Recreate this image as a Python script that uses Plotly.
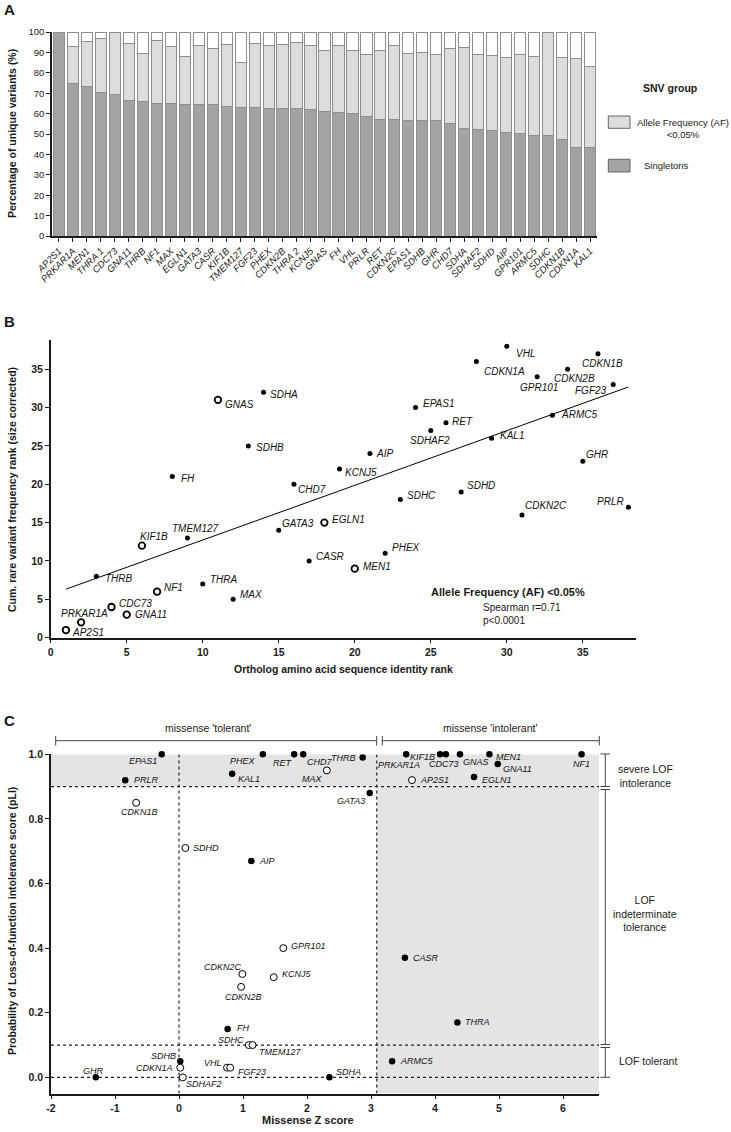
import numpy as np
import plotly.graph_objects as go

W, H = 731, 1132
def px(x): return x / W
def py(y): return 1 - y / H

FONT = "Arial, Liberation Sans, Helvetica, sans-serif"

# ---------------- Panel A data ----------------
genes_a = ["AP2S1", "PRKAR1A", "MEN1", "THRA 1", "CDC73", "GNA11", "THRB", "NF1", "MAX",
           "EGLN1", "GATA3", "CASR", "KIF1B", "TMEM127", "FGF23", "PHEX", "CDKN2B", "THRA 2",
           "KCNJ5", "GNAS", "FH", "VHL", "PRLR", "RET", "CDKN2C", "EPAS1", "SDHB", "GHR",
           "CHD7", "SDHA", "SDHAF2", "SDHD", "AIP", "GPR101", "ARMC5", "SDHC", "CDKN1B",
           "CDKN1A", "KAL1"]
singletons = [100, 75.0, 73.4, 70.5, 69.2, 66.3, 66.1, 64.8, 64.8, 64.4, 64.4, 64.4, 63.7,
              63.2, 63.1, 62.7, 62.6, 62.4, 61.9, 60.8, 60.3, 60.0, 58.7, 57.1, 57.0, 56.5,
              56.5, 56.5, 55.0, 52.6, 52.1, 51.6, 50.6, 50.2, 49.5, 49.5, 47.3, 43.4, 43.4]
af_low = [0, 17.7, 22.1, 26.1, 30.8, 28.1, 23.4, 31.0, 27.9, 23.5, 28.8, 27.4, 30.0, 21.8,
          31.1, 30.5, 31.1, 32.3, 31.3, 30.0, 32.9, 31.1, 30.2, 33.7, 36.2, 33.0, 33.5, 32.4,
          36.8, 39.7, 36.8, 36.9, 36.8, 38.7, 38.4, 50.5, 40.1, 43.7, 39.7]
remainder = [max(0.0, 100 - s - a) for s, a in zip(singletons, af_low)]

# ---------------- Panel B data ----------------
genes_b = ["AP2S1", "PRKAR1A", "THRB", "CDC73", "GNA11", "KIF1B", "NF1", "FH", "TMEM127",
           "THRA", "GNAS", "MAX", "SDHB", "SDHA", "GATA3", "CHD7", "CASR", "EGLN1", "KCNJ5",
           "MEN1", "AIP", "PHEX", "SDHC", "EPAS1", "SDHAF2", "RET", "SDHD", "CDKN1A", "KAL1",
           "VHL", "CDKN2C", "GPR101", "ARMC5", "CDKN2B", "GHR", "CDKN1B", "FGF23", "PRLR"]
ortholog_rank = list(range(1, 39))
cum_rank = [1, 2, 8, 4, 3, 12, 6, 21, 13, 7, 31, 5, 25, 32, 14, 20, 10, 15, 22, 9, 24, 11,
            18, 30, 27, 28, 19, 36, 26, 38, 16, 34, 29, 35, 23, 37, 33, 17]
open_b = {"AP2S1", "PRKAR1A", "CDC73", "GNA11", "NF1", "KIF1B", "GNAS", "EGLN1", "MEN1"}

# label placement (pixel offsets right / down from the point, text anchor)
lab_b = {"VHL": (7, 7, "left"), "CDKN1A": (5.5, 10, "left"), "GPR101": (2, 10.5, "center"),
         "CDKN2B": (7, 9.5, "center"), "CDKN1B": (4.5, 10, "center"), "FGF23": (-4, 5.5, "right"),
         "EPAS1": (5, -4.5, "left"), "RET": (4, -1.5, "left"), "ARMC5": (7, -1, "left"),
         "SDHAF2": (-0.5, 10, "center"), "KAL1": (6, -2.5, "left"), "AIP": (4, 0, "left"),
         "GHR": (1, -7, "left"), "SDHD": (4, -6.5, "left"), "SDHC": (4.5, -4, "left"),
         "CDKN2C": (1.5, -9, "left"), "PRLR": (-2.5, -5.5, "right"), "PHEX": (5, -5.5, "left"),
         "MEN1": (6, -2, "left"), "SDHB": (5.5, 2, "left"), "KCNJ5": (3.5, 3.5, "left"),
         "FH": (6.5, 1.5, "left"), "CHD7": (2.5, 5.5, "left"), "GATA3": (1, -6.5, "left"),
         "EGLN1": (6, -3.5, "left"), "TMEM127": (7.5, -9, "center"), "KIF1B": (-3.5, -9, "left"),
         "CASR": (4.5, -4.5, "left"), "THRB": (7, 2.5, "left"), "THRA": (5, -4, "left"),
         "NF1": (5, -4, "left"), "MAX": (4.5, -4.5, "left"), "CDC73": (5, -4, "left"),
         "GNA11": (6, 0, "left"), "PRKAR1A": (3.5, -8.5, "center"), "AP2S1": (4, 2.5, "left"),
         "GNAS": (5.5, 5, "left"), "SDHA": (4.5, 2.5, "left")}

# ---------------- Panel C data ----------------
genes_c = ["EPAS1", "PRLR", "CDKN1B", "PHEX", "KAL1", "RET", "CHD7", "MAX", "THRB", "GATA3",
           "SDHD", "AIP", "PRKAR1A", "KIF1B", "CDC73", "GNAS", "MEN1", "GNA11", "EGLN1", "NF1",
           "AP2S1", "GPR101", "CDKN2C", "KCNJ5", "CDKN2B", "FH", "SDHC", "TMEM127", "SDHB",
           "CDKN1A", "VHL", "FGF23", "GHR", "SDHAF2", "SDHA", "CASR", "THRA", "ARMC5"]
missense_z = [-0.27, -0.84, -0.67, 1.31, 0.83, 1.80, 1.94, 2.31, 2.87, 2.98,
              0.10, 1.13, 3.55, 4.08, 4.17, 4.39, 4.85, 4.98, 4.61, 6.29,
              3.64, 1.63, 0.99, 1.48, 0.97, 0.76, 1.09, 1.15, 0.02,
              0.02, 0.75, 0.80, -1.30, 0.06, 2.35, 3.53, 4.35, 3.33]
pli = [1.00, 0.92, 0.85, 1.00, 0.94, 1.00, 1.00, 0.95, 0.99, 0.88,
       0.71, 0.67, 1.00, 1.00, 1.00, 1.00, 1.00, 0.97, 0.93, 1.00,
       0.92, 0.40, 0.32, 0.31, 0.28, 0.15, 0.10, 0.10, 0.05,
       0.03, 0.03, 0.03, 0.00, 0.00, 0.00, 0.37, 0.17, 0.05]
open_c = {"CDKN1B", "MAX", "SDHD", "AP2S1", "GPR101", "CDKN2C", "KCNJ5", "CDKN2B", "SDHC",
          "TMEM127", "CDKN1A", "VHL", "FGF23", "SDHAF2"}
lab_c = {"EPAS1": (-3, 6.5, "right"), "PRLR": (7, 0, "left"), "CDKN1B": (3, 9, "center"),
         "PHEX": (-5, 6.5, "right"), "KAL1": (4, 5, "left"), "RET": (1, 9, "right"),
         "CHD7": (2, 7.5, "left"), "MAX": (-1.5, 9, "right"), "THRB": (-4.5, 0.5, "right"),
         "GATA3": (-3, 7.5, "right"), "SDHD": (6, 0, "left"), "AIP": (6, 0, "left"),
         "PRKAR1A": (-7, 10.5, "center"), "KIF1B": (-3.3, 2.3, "right"),
         "CDC73": (-1.5, 10, "center"), "GNAS": (0.7, 7.3, "left"), "MEN1": (4.7, 2.3, "left"),
         "GNA11": (3.3, 5, "left"), "EGLN1": (6, 3, "left"), "NF1": (0, 10, "center"),
         "AP2S1": (6, 0, "left"), "GPR101": (6, -2, "left"), "CDKN2C": (1.7, -7, "right"),
         "KCNJ5": (6, -3.4, "left"), "CDKN2B": (2, 10, "center"), "FH": (7, -1, "left"),
         "SDHC": (-3, -4.6, "right"), "TMEM127": (4.4, 7, "left"), "SDHB": (-2, -5.3, "right"),
         "CDKN1A": (-5, 0, "right"), "VHL": (-3.3, -4.6, "right"), "FGF23": (5.7, 4.6, "left"),
         "GHR": (-2.3, -6.6, "center"), "SDHAF2": (1.3, 6.7, "left"), "SDHA": (5, -5, "left"),
         "CASR": (6, 0, "left"), "THRA": (6, 0, "left"), "ARMC5": (6, 0, "left")}
MISSENSE_CUT = 3.09

DARK = "#a3a3a3"
LIGHT = "#dcdcdc"
EDGE = "#8e8e8e"

fig = go.Figure()

# Panel A bars
fig.add_trace(go.Bar(x=genes_a, y=singletons, name="Singletons",
                     marker=dict(color=DARK, line=dict(color=EDGE, width=1)),
                     xaxis="x", yaxis="y", showlegend=False))
fig.add_trace(go.Bar(x=genes_a, y=af_low, name="Allele Frequency (AF) <0.05%",
                     marker=dict(color=LIGHT, line=dict(color=EDGE, width=1)),
                     xaxis="x", yaxis="y", showlegend=False))
fig.add_trace(go.Bar(x=genes_a, y=remainder, name="other",
                     marker=dict(color="white", line=dict(color=EDGE, width=1)),
                     xaxis="x", yaxis="y", showlegend=False))

def split(genes, xs, ys, opens):
    f = [(g, x, y) for g, x, y in zip(genes, xs, ys) if g not in opens]
    o = [(g, x, y) for g, x, y in zip(genes, xs, ys) if g in opens]
    return f, o

# Panel B scatter
fb, ob = split(genes_b, ortholog_rank, cum_rank, open_b)
fig.add_trace(go.Scatter(x=[p[1] for p in fb], y=[p[2] for p in fb], mode="markers",
                         marker=dict(color="black", size=5), hovertext=[p[0] for p in fb],
                         xaxis="x2", yaxis="y2", showlegend=False, cliponaxis=False))
fig.add_trace(go.Scatter(x=[p[1] for p in ob], y=[p[2] for p in ob], mode="markers",
                         marker=dict(color="white", size=6.5, line=dict(color="black", width=1.8)),
                         hovertext=[p[0] for p in ob],
                         xaxis="x2", yaxis="y2", showlegend=False, cliponaxis=False))
slope, intercept = np.polyfit(ortholog_rank, cum_rank, 1)
xl = np.array([min(ortholog_rank), max(ortholog_rank)])
fig.add_trace(go.Scatter(x=xl, y=slope * xl + intercept, mode="lines",
                         line=dict(color="black", width=1),
                         xaxis="x2", yaxis="y2", showlegend=False))

# Panel C scatter
fc, oc = split(genes_c, missense_z, pli, open_c)
fig.add_trace(go.Scatter(x=[p[1] for p in fc], y=[p[2] for p in fc], mode="markers",
                         marker=dict(color="black", size=6.5), hovertext=[p[0] for p in fc],
                         xaxis="x3", yaxis="y3", showlegend=False, cliponaxis=False))
fig.add_trace(go.Scatter(x=[p[1] for p in oc], y=[p[2] for p in oc], mode="markers",
                         marker=dict(color="white", size=7, line=dict(color="black", width=1)),
                         hovertext=[p[0] for p in oc],
                         xaxis="x3", yaxis="y3", showlegend=False, cliponaxis=False))

axis_common = dict(showline=True, linecolor="#1a1a1a", linewidth=1.5, ticks="outside", ticklen=4,
                   tickwidth=1.2, tickcolor="#1a1a1a", showgrid=False, zeroline=False,
                   automargin=False)
bold_tick = dict(family=FONT, size=10.5, color="#1a1a1a", weight="bold")
xt3 = list(range(-2, 7))

fig.update_layout(
    width=W, height=H, margin=dict(l=0, r=0, t=0, b=0, pad=0, autoexpand=False), autosize=False,
    paper_bgcolor="white", plot_bgcolor="rgba(0,0,0,0)",
    barmode="stack", bargap=0.2, font=dict(family=FONT, color="#1a1a1a"),
    xaxis=dict(axis_common, domain=[px(52), px(597)], anchor="y", type="category",
               range=[-0.5, 38.5], tickangle=-45,
               tickfont=dict(family=FONT, size=9.5, color="#1a1a1a", style="italic")),
    yaxis=dict(axis_common, domain=[py(236), py(32)], anchor="x", range=[0, 100], dtick=10,
               tickfont=dict(family=FONT, size=9.5, color="#1a1a1a")),
    xaxis2=dict(axis_common, domain=[px(50.7), px(636)], anchor="y2", range=[0, 38.5], dtick=5,
                tickfont=bold_tick),
    yaxis2=dict(axis_common, domain=[py(637.7), py(340)], anchor="x2", range=[0, 38.8], dtick=5,
                tickfont=bold_tick),
    xaxis3=dict(axis_common, domain=[px(51), px(599)], anchor="y3", range=[-2, 6.5625],
                tickvals=xt3, ticktext=[str(v) for v in xt3], tickfont=bold_tick),
    yaxis3=dict(axis_common, domain=[py(1093.5), py(754.3)], anchor="x3", range=[-0.05, 1.0],
                tickvals=[0, 0.2, 0.4, 0.6, 0.8, 1.0], tickformat=".1f", tickfont=bold_tick),
)

shapes = []
GREY = "#e4e4e4"
shapes.append(dict(type="rect", xref="x3", yref="y3", x0=-2, x1=MISSENSE_CUT, y0=0.9, y1=1.0,
                   fillcolor=GREY, line=dict(width=0), layer="below"))
shapes.append(dict(type="rect", xref="x3", yref="y3", x0=MISSENSE_CUT, x1=6.5625, y0=-0.05, y1=1.0,
                   fillcolor=GREY, line=dict(width=0), layer="below"))
for yv in [0.9, 0.1, 0.0]:
    shapes.append(dict(type="line", xref="x3", yref="y3", x0=-2, x1=6.5625, y0=yv, y1=yv,
                       line=dict(color="#222", width=1.2, dash="dot"), layer="below"))
for xv in [0.0, MISSENSE_CUT]:
    shapes.append(dict(type="line", xref="x3", yref="y3", x0=xv, x1=xv, y0=-0.05, y1=1.0,
                       line=dict(color="#222", width=1.2, dash="dot"), layer="below"))

def pline(x0, y0, x1, y1, color="#444", width=1):
    shapes.append(dict(type="line", xref="paper", yref="paper", x0=px(x0), y0=py(y0),
                       x1=px(x1), y1=py(y1), line=dict(color=color, width=width)))

pline(55.7, 740.7, 376.7, 740.7)
pline(55.7, 736, 55.7, 745.5)
pline(376.7, 736, 376.7, 745.5)
pline(382.3, 740.7, 599.3, 740.7)
pline(382.3, 736, 382.3, 745.5)
pline(599.3, 736, 599.3, 745.5)
RX = 605.3
pline(RX, 754, RX, 786.5)
pline(600.5, 754, 610, 754)
pline(600.5, 786.5, 610, 786.5)
pline(600.5, 789.5, 610, 789.5)
pline(RX, 789.5, RX, 1044.5)
pline(600.5, 1044.5, 610, 1044.5)
pline(600.5, 1047.5, 610, 1047.5)
pline(RX, 1047.5, RX, 1077.3)
pline(600.5, 1077.3, 610, 1077.3)

shapes.append(dict(type="rect", xref="paper", yref="paper", x0=px(608.3), x1=px(630),
                   y0=py(128.3), y1=py(116), fillcolor=LIGHT, line=dict(color="#666", width=1)))
shapes.append(dict(type="rect", xref="paper", yref="paper", x0=px(608.3), x1=px(630),
                   y0=py(172), y1=py(159.3), fillcolor=DARK, line=dict(color="#666", width=1)))

annotations = []
def ann(text, x, y, size=10, bold=False, italic=False, xanchor="center", yanchor="middle",
        angle=0, align="center"):
    annotations.append(dict(text=text, x=px(x), y=py(y), xref="paper", yref="paper",
                            showarrow=False, xanchor=xanchor, yanchor=yanchor, textangle=angle,
                            align=align,
                            font=dict(family=FONT, size=size, color="#1a1a1a",
                                      weight="bold" if bold else "normal",
                                      style="italic" if italic else "normal")))

def point_labels(genes, xs, ys, lab, xref, yref, size):
    for g, x, y in zip(genes, xs, ys):
        dx, dy, anchor = lab[g]
        annotations.append(dict(text=g, x=x, y=y, xref=xref, yref=yref, showarrow=False,
                                xanchor=anchor, yanchor="middle", xshift=dx, yshift=-dy,
                                font=dict(family=FONT, size=size, color="#111", style="italic")))

point_labels(genes_b, ortholog_rank, cum_rank, lab_b, "x2", "y2", 10)
point_labels(genes_c, missense_z, pli, lab_c, "x3", "y3", 9)

ann("A", 2, 10, size=15, bold=True, xanchor="left")
ann("B", 2, 321, size=15, bold=True, xanchor="left")
ann("C", 2, 720, size=15, bold=True, xanchor="left")
ann("Percentage of unique variants (%)", 12, 134, size=10.5, bold=True, angle=-90)
ann("SNV group", 670, 88, size=10.5, bold=True)
ann("Allele Frequency (AF)<br>&lt;0.05%", 683, 128.5, size=9.5)
ann("Singletons", 641.7, 165.5, size=9.5, xanchor="left")

ann("Cum. rare variant frequency rank (size corrected)", 12, 490, size=10.5, bold=True, angle=-90)
ann("Ortholog amino acid sequence identity rank", 343, 669, size=10.5, bold=True)
ann("Allele Frequency (AF) &lt;0.05%", 507.5, 592, size=11, bold=True)
ann("Spearman r=0.71", 480.7, 607, size=10, xanchor="left")
ann("p&lt;0.0001", 480.7, 620, size=10, xanchor="left")

ann("missense 'tolerant'", 208, 728, size=10.5)
ann("missense 'intolerant'", 490, 728, size=10.5)
ann("severe LOF<br>intolerance", 645, 776, size=10.5)
ann("LOF<br>indeterminate<br>tolerance", 645, 913, size=10.5)
ann("LOF tolerant", 648, 1061, size=10.5)
ann("Probability of Loss-of-function intolerance score (pLI)", 12, 921, size=10.5, bold=True, angle=-90)
ann("Missense Z score", 308, 1120, size=11, bold=True)

fig.update_layout(shapes=shapes, annotations=annotations)
fig.write_html("out.html", config={"displayModeBar": False},
               post_script="document.body.style.margin='0px';document.body.style.overflow='hidden';")
